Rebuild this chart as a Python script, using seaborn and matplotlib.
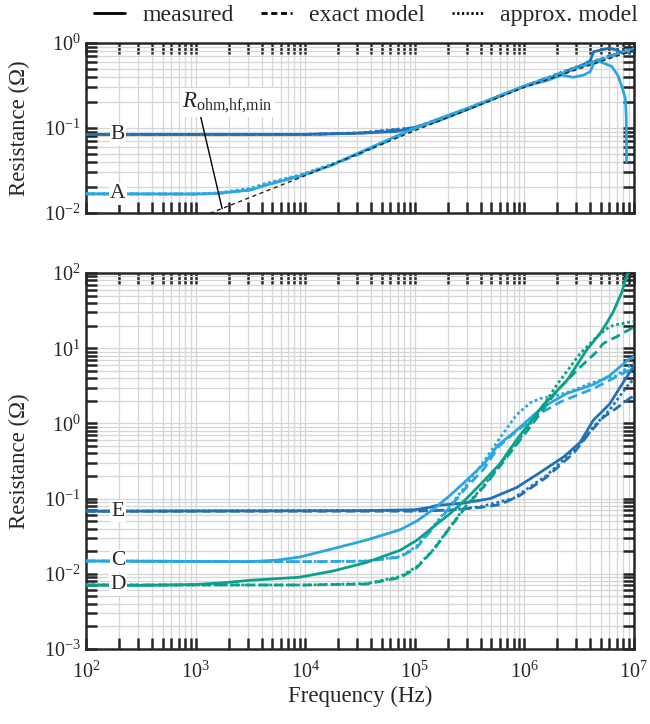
import matplotlib
matplotlib.use("Agg")
import numpy as np
import pandas as pd
import matplotlib.pyplot as plt
import seaborn as sns
from matplotlib.lines import Line2D
from matplotlib.ticker import LogLocator, NullFormatter

# ---------------- top panel: samples A and B ----------------
f_A_meas = [100, 1000, 1600, 3160, 4470, 8900, 1.7e4, 3.2e4, 1e5, 3.2e5, 1e6, 1.6e6,
            2.2e6, 2.8e6, 3.5e6, 4.0e6, 4.3e6, 4.8e6, 6.3e6, 7.2e6, 7.9e6, 8.4e6, 8.55e6, 8.6e6]
r_A_meas = [0.0168, 0.0167, 0.0170, 0.0186, 0.0214, 0.027, 0.036, 0.052, 0.100, 0.175, 0.31, 0.36,
            0.42, 0.395, 0.42, 0.46, 0.57, 0.61, 0.53, 0.41, 0.29, 0.22, 0.13, 0.04]
f_A_model = [100, 1000, 1600, 3160, 4470, 8900, 1.7e4, 3.2e4, 1e5, 3.2e5, 1e6, 3.2e6, 1e7]
r_A_exact = [0.0168, 0.0167, 0.0170, 0.0188, 0.0216, 0.0275, 0.036, 0.050, 0.098, 0.172, 0.31, 0.52, 0.85]
r_A_approx = [0.0168, 0.0168, 0.0172, 0.0195, 0.0225, 0.028, 0.037, 0.051, 0.099, 0.174, 0.31, 0.53, 0.86]

f_B_meas = [100, 1e4, 3.2e4, 6.8e4, 1e5, 1.6e5, 3.2e5, 1e6, 2.2e6, 3.5e6, 4.0e6, 4.3e6,
            6.0e6, 6.9e6, 7.9e6, 1e7]
r_B_meas = [0.084, 0.084, 0.087, 0.091, 0.102, 0.12, 0.17, 0.31, 0.43, 0.56, 0.62, 0.79,
            0.87, 0.83, 0.76, 0.80]
f_B_model = [100, 1e4, 3.2e4, 1e5, 3.2e5, 1e6, 3.2e6, 1e7]
r_B_exact = [0.084, 0.084, 0.087, 0.100, 0.172, 0.31, 0.53, 0.86]
r_B_approx = [0.084, 0.084, 0.088, 0.101, 0.174, 0.31, 0.54, 0.87]

# minimum high-frequency ohmic resistance (reference line)
f_Rmin = [1e3, 1e4, 1e5, 1e6, 1e7]
r_Rmin = [0.0085, 0.0275, 0.093, 0.30, 0.82]

# ---------------- bottom panel: samples C, D and E ----------------
f_C_meas = [100, 1000, 3160, 5600, 8900, 1.78e4, 3.6e4, 7.4e4, 1.05e5, 1.48e5, 2.1e5, 2.95e5, 4.3e5,
            5.75e5, 8.5e5, 1.48e6, 2.45e6, 4.3e6, 6.0e6, 9.1e6, 1e7]
r_C_meas = [0.0148, 0.0146, 0.0145, 0.0152, 0.0167, 0.0215, 0.028, 0.0386, 0.0505, 0.072, 0.11, 0.173, 0.29,
            0.51, 0.81, 1.65, 2.5, 3.3, 4.3, 7.2, 7.6]
f_C_exact = [100, 1000, 1e4, 3.6e4, 7.4e4, 1.05e5, 1.48e5, 2.1e5, 2.95e5, 4.3e5, 5.9e5, 7.9e5,
             1.26e6, 2.14e6, 4.27e6, 9.1e6, 1e7]
r_C_exact = [0.0148, 0.0146, 0.0145, 0.0147, 0.0167, 0.0225, 0.041, 0.077, 0.14, 0.25, 0.50, 0.72,
             1.25, 1.93, 2.9, 5.1, 5.4]
f_C_approx = [100, 1e4, 3.6e4, 7.4e4, 1.05e5, 1.48e5, 2.1e5, 2.95e5, 4.2e5, 6.0e5, 8.5e5, 1.15e6,
              1.41e6, 2.0e6, 2.82e6, 3.98e6, 6.9e6, 9.5e6, 1e7]
r_C_approx = [0.0148, 0.0145, 0.0148, 0.017, 0.0235, 0.043, 0.08, 0.15, 0.30, 0.64, 1.3, 1.9,
              2.15, 2.36, 2.75, 3.4, 4.3, 6.0, 6.2]

f_D_meas = [100, 316, 1000, 1800, 3160, 8900, 1.8e4, 3.6e4, 7.4e4, 1.05e5, 1.48e5, 2.1e5, 2.95e5,
            4.3e5, 6.0e5, 8.5e5, 1.48e6, 2.45e6, 3.7e6, 4.9e6, 5.6e6, 6.5e6, 7.8e6, 8.3e6, 8.9e6]
r_D_meas = [0.0071, 0.0070, 0.0072, 0.0076, 0.0082, 0.0090, 0.0109, 0.0141, 0.0206, 0.028, 0.042, 0.063, 0.099,
            0.173, 0.29, 0.60, 1.73, 3.7, 9.4, 15.6, 21, 30.5, 56, 77, 100]
f_D_model = [100, 1e4, 3.6e4, 7.4e4, 1.05e5, 1.48e5, 2.1e5, 2.95e5, 4.3e5, 6.0e5, 8.5e5, 1.26e6,
             2.0e6, 3.24e6, 4.6e6, 5.25e6, 6.0e6, 6.9e6, 9.5e6, 1e7]
r_D_exact = [0.0071, 0.0071, 0.0073, 0.0089, 0.0121, 0.0206, 0.041, 0.079, 0.145, 0.27, 0.52, 1.10,
             2.75, 5.6, 9.0, 11.5, 12.8, 14.1, 18.3, 18.8]
r_D_approx = [0.0071, 0.0071, 0.0074, 0.0092, 0.0125, 0.021, 0.042, 0.081, 0.15, 0.28, 0.55, 1.2,
              3.3, 8.5, 14.2, 16.5, 19.3, 20.5, 22.5, 22.7]

f_E_meas = [100, 3.2e4, 1e5, 1.38e5, 1.58e5, 2.75e5, 4.9e5, 8.5e5, 1.38e6, 2.3e6, 3.24e6, 4.27e6,
            6.0e6, 7.9e6, 1e7]
r_E_meas = [0.068, 0.069, 0.071, 0.0766, 0.081, 0.087, 0.10, 0.14, 0.22, 0.36, 0.56, 1.1,
            1.8, 3.4, 5.8]
f_E_exact = [100, 1e5, 2.1e5, 4.2e5, 6.0e5, 9.1e5, 1.58e6, 2.82e6, 3.98e6, 5.25e6, 6.9e6, 9.1e6, 1e7]
r_E_exact = [0.068, 0.068, 0.0703, 0.077, 0.083, 0.11, 0.19, 0.40, 0.76, 1.2, 1.58, 2.14, 2.3]
f_E_approx = [100, 2.0e5, 4.0e5, 7.9e5, 1.58e6, 2.5e6, 3.47e6, 4.27e6, 6.0e6, 9.1e6, 1e7]
r_E_approx = [0.068, 0.070, 0.078, 0.10, 0.20, 0.37, 0.60, 0.90, 1.5, 3.4, 3.8]

# ---------------- styling ----------------
LIGHT = "#2aa7e0"
DARK = "#2171b5"
TEAL = "#0ba08c"
SOLID = "-"
DASHED = (0, (3.4, 1.8))
DOTTED = (0, (1.0, 1.0))
LW = 2.0

sns.set_style("white")
plt.rcParams["font.family"] = ["Liberation Serif", "DejaVu Serif"]
plt.rcParams["mathtext.fontset"] = "custom"
plt.rcParams["mathtext.rm"] = "Liberation Serif"
plt.rcParams["mathtext.it"] = "Liberation Serif:italic"
plt.rcParams["mathtext.bf"] = "Liberation Serif:bold"

fig = plt.figure(figsize=(6.5, 7.24), dpi=100)
ax_top = fig.add_axes([0.1323, 0.7058, 0.8427, 0.2348])
ax_bot = fig.add_axes([0.1323, 0.1036, 0.8427, 0.5193])


def trace(ax, f, r, color, ls, lw=LW, z=3):
    df = pd.DataFrame({"Frequency": f, "Resistance": r})
    sns.lineplot(data=df, x="Frequency", y="Resistance", ax=ax, color=color,
                 linestyle=ls, lw=lw, estimator=None, zorder=z)


for ax in (ax_top, ax_bot):
    ax.set_xscale("log")
    ax.set_yscale("log")

# top panel curves
trace(ax_top, f_Rmin, r_Rmin, "#222222", (0, (3, 2.5)), lw=1.0, z=5)
trace(ax_top, f_B_meas, r_B_meas, DARK, SOLID)
trace(ax_top, f_B_model, r_B_exact, DARK, DASHED)
trace(ax_top, f_B_model, r_B_approx, DARK, DOTTED)
trace(ax_top, f_A_meas, r_A_meas, LIGHT, SOLID)
trace(ax_top, f_A_model, r_A_exact, LIGHT, DASHED)
trace(ax_top, f_A_model, r_A_approx, LIGHT, DOTTED)

# bottom panel curves
trace(ax_bot, f_E_meas, r_E_meas, DARK, SOLID)
trace(ax_bot, f_E_exact, r_E_exact, DARK, DASHED)
trace(ax_bot, f_E_approx, r_E_approx, DARK, DOTTED)
trace(ax_bot, f_C_meas, r_C_meas, LIGHT, SOLID)
trace(ax_bot, f_C_exact, r_C_exact, LIGHT, DASHED)
trace(ax_bot, f_C_approx, r_C_approx, LIGHT, DOTTED)
trace(ax_bot, f_D_meas, r_D_meas, TEAL, SOLID)
trace(ax_bot, f_D_model, r_D_exact, TEAL, DASHED)
trace(ax_bot, f_D_model, r_D_approx, TEAL, DOTTED)

ax_top.set_xlim(1e2, 1e7)
ax_top.set_ylim(1e-2, 1e0)
ax_bot.set_xlim(1e2, 1e7)
ax_bot.set_ylim(1e-3, 1e2)

TICK_FS = 14.5
LABEL_FS = 16.5
for ax in (ax_top, ax_bot):
    ax.xaxis.set_major_locator(LogLocator(base=10, numticks=20))
    ax.xaxis.set_minor_locator(LogLocator(base=10, subs=np.arange(2, 10), numticks=20))
    ax.yaxis.set_major_locator(LogLocator(base=10, numticks=20))
    ax.yaxis.set_minor_locator(LogLocator(base=10, subs=np.arange(2, 10), numticks=20))
    ax.xaxis.set_minor_formatter(NullFormatter())
    ax.yaxis.set_minor_formatter(NullFormatter())
    ax.grid(which="both", color="#d6d6d6", lw=0.9, zorder=0)
    ax.set_axisbelow(True)
    ax.tick_params(which="both", direction="in", top=True, right=True,
                   bottom=True, left=True, length=8, width=1.8, color="#262626")
    ax.tick_params(axis="y", which="major", pad=4, labelsize=TICK_FS)
    ax.tick_params(axis="x", which="major", pad=9, labelsize=TICK_FS)
    for sp in ax.spines.values():
        sp.set_linewidth(1.8)
        sp.set_color("#262626")
    ax.set_ylabel("Resistance (Ω)", fontsize=LABEL_FS)
    ax.set_xlabel("")

ax_top.tick_params(axis="x", labelbottom=False)
ax_bot.set_xlabel("Frequency (Hz)", fontsize=LABEL_FS, labelpad=2)
ax_top.yaxis.set_label_coords(-0.102, 0.5)
ax_bot.yaxis.set_label_coords(-0.102, 0.5)

# sample letters on the low-frequency plateaus
letter_box = dict(facecolor="white", edgecolor="none", pad=1.0)
for ax, name, val in [(ax_top, "B", r_B_meas[0]), (ax_top, "A", r_A_meas[0]),
                      (ax_bot, "E", r_E_meas[0]), (ax_bot, "C", r_C_meas[0]),
                      (ax_bot, "D", r_D_meas[0])]:
    ax.text(196, val, name, ha="center", va="center", fontsize=15.5,
            bbox=letter_box, zorder=6)

# annotation of the reference line
ax_top.annotate(r"$R_{\mathrm{ohm{,}hf{,}min}}$", xy=(1750, 0.0112), xytext=(1950, 0.2),
                ha="center", va="center", fontsize=16.5,
                bbox=dict(facecolor="white", edgecolor="none", pad=1.5),
                arrowprops=dict(arrowstyle="-", lw=1.0, color="black",
                                shrinkA=0, shrinkB=0, relpos=(0.2, 0.0)),
                zorder=7)

# legend for line styles (shorter dash pattern so the short samples read clearly)
handles = [Line2D([], [], color="black", lw=LW, linestyle=SOLID),
           Line2D([], [], color="black", lw=LW, linestyle=(0, (2.2, 1.3))),
           Line2D([], [], color="black", lw=LW, linestyle=(0, (0.8, 0.9)))]
fig.legend(handles, ["measured", "exact model", "approx. model"], loc="center",
           bbox_to_anchor=(0.563, 0.979), ncol=3, frameon=False, fontsize=17.2,
           handlelength=1.3, handletextpad=0.7, columnspacing=1.15)

fig.savefig("out.png", dpi=100)
